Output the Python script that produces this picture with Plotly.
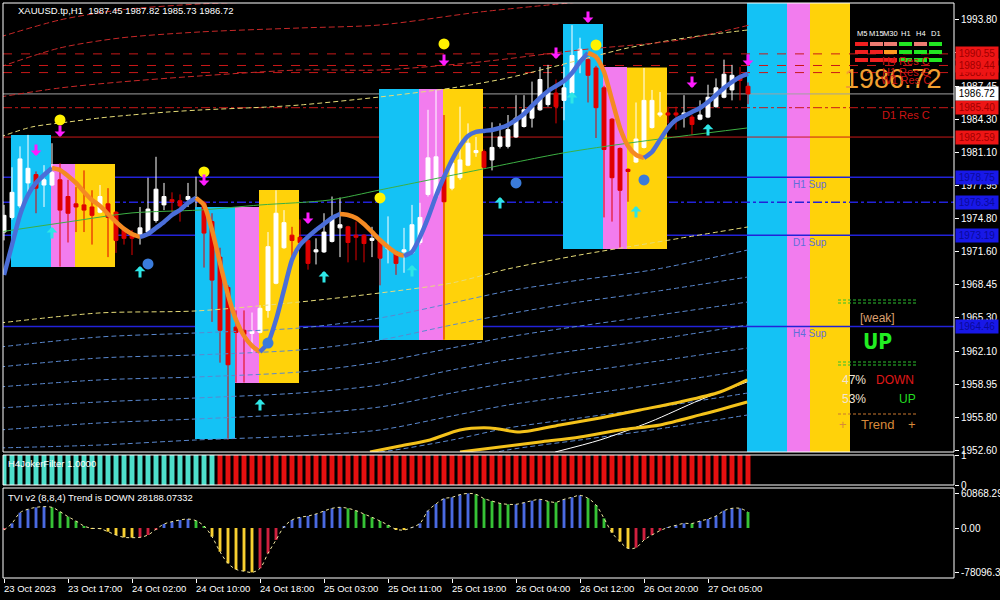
import plotly.graph_objects as go

FONT = "Liberation Sans, Arial, sans-serif"

# ------------------------------------------------------------------ DATA
TITLE_TEXT = "XAUUSD.tp,H1  1987.45 1987.82 1985.73 1986.72"

TIME_TICK_BARS = [0, 8, 16, 24, 32, 40, 48, 56, 64, 72, 80, 88]
TIME_TICK_TEXT = ["23 Oct 2023", "23 Oct 17:00", "24 Oct 02:00", "24 Oct 10:00",
                  "24 Oct 18:00", "25 Oct 03:00", "25 Oct 11:00", "25 Oct 19:00",
                  "26 Oct 04:00", "26 Oct 12:00", "26 Oct 20:00", "27 Oct 05:00"]

PRICE_TICKS = [1993.80, 1990.65, 1987.45, 1984.30, 1981.10, 1977.95, 1974.80,
               1971.60, 1968.45, 1965.30, 1962.10, 1958.95, 1955.80, 1952.60]
TVI_TICKS = [60868.2995, 0.0, -78096.38]
TVI_TICK_TEXT = ["60868.2995", "0.00", "-78096.38"]

OPEN = [1973.5, 1974.9, 1976.0, 1978.2, 1979.0, 1978.0, 1978.0, 1978.5, 1976.9, 1976.2,
        1976.1, 1975.9, 1975.4, 1976.2, 1975.4, 1973.7, 1973.2, 1973.2, 1973.5, 1974.6,
        1976.1, 1976.6, 1976.5, 1976.6, 1976.6, 1976.3, 1974.5, 1971.1, 1968.2, 1964.4,
        1964.1, 1963.8, 1963.9, 1966.0, 1968.6, 1972.0, 1973.2, 1973.0, 1972.7, 1971.6,
        1971.6, 1972.6, 1973.9, 1974.0, 1973.2, 1973.2, 1972.7, 1972.7, 1971.9, 1971.6,
        1971.6, 1971.5, 1972.5, 1977.1, 1976.9, 1978.8, 1977.7, 1978.7, 1979.9, 1981.1,
        1981.2, 1980.4, 1981.7, 1981.7, 1982.6, 1983.6, 1984.4, 1985.2, 1985.7, 1986.8,
        1986.1, 1986.8, 1990.0, 1990.0, 1989.2, 1987.3, 1984.3, 1981.5, 1979.5, 1980.2,
        1981.6, 1983.5, 1984.7, 1984.9, 1984.9, 1984.5, 1984.5, 1984.3, 1984.5, 1985.5,
        1986.4, 1987.1, 1988.4, 1987.45]
HIGH = [1976.1, 1979.7, 1981.7, 1982.8, 1979.3, 1979.9, 1982.0, 1980.1, 1978.5, 1977.8,
        1979.4, 1977.5, 1978.0, 1977.7, 1975.5, 1973.8, 1973.7, 1975.9, 1978.7, 1980.7,
        1978.2, 1977.3, 1977.1, 1978.2, 1978.8, 1976.5, 1975.3, 1972.0, 1968.4, 1966.0,
        1966.0, 1965.8, 1966.5, 1973.5, 1977.5, 1975.6, 1974.0, 1974.7, 1972.8, 1972.9,
        1975.3, 1976.9, 1976.8, 1974.1, 1974.5, 1973.3, 1974.0, 1972.8, 1975.0, 1971.7,
        1973.9, 1976.1, 1976.3, 1985.2, 1987.1, 1984.7, 1980.4, 1985.5, 1983.9, 1982.6,
        1981.4, 1984.0, 1983.9, 1984.7, 1986.6, 1986.6, 1987.9, 1989.3, 1989.5, 1988.1,
        1989.3, 1993.3, 1992.1, 1990.2, 1989.4, 1987.5, 1984.4, 1981.6, 1979.6, 1985.9,
        1989.2, 1987.1, 1986.9, 1985.5, 1985.5, 1986.6, 1984.7, 1986.1, 1987.6, 1988.2,
        1990.0, 1989.5, 1989.3, 1987.82]
LOW = [1972.7, 1974.7, 1975.8, 1976.9, 1975.3, 1975.9, 1977.9, 1970.2, 1972.5, 1973.5,
       1973.5, 1972.3, 1975.3, 1971.1, 1971.5, 1972.3, 1971.3, 1972.3, 1973.3, 1974.4,
       1975.6, 1975.4, 1974.5, 1975.9, 1975.9, 1970.1, 1964.9, 1961.0, 1953.6, 1959.1,
       1959.1, 1961.9, 1963.8, 1965.3, 1968.5, 1971.9, 1971.0, 1972.4, 1969.9, 1970.4,
       1971.5, 1972.5, 1971.1, 1970.6, 1970.8, 1970.6, 1971.1, 1968.4, 1970.5, 1969.4,
       1969.6, 1971.4, 1972.3, 1976.9, 1976.9, 1963.2, 1977.5, 1978.5, 1979.8, 1980.7,
       1979.6, 1979.4, 1981.5, 1981.5, 1982.5, 1983.5, 1983.5, 1985.1, 1985.5, 1983.9,
       1984.2, 1986.6, 1988.7, 1985.9, 1982.5, 1974.9, 1974.5, 1972.0, 1976.4, 1980.1,
       1981.5, 1983.4, 1984.5, 1983.9, 1983.3, 1983.5, 1982.8, 1984.2, 1984.4, 1985.4,
       1986.3, 1986.1, 1986.1, 1985.73]
CLOSE = [1975.1, 1977.3, 1980.5, 1979.6, 1977.7, 1978.5, 1979.2, 1975.6, 1975.3, 1975.9,
         1975.6, 1975.1, 1976.9, 1974.9, 1972.7, 1972.9, 1972.9, 1973.9, 1975.7, 1977.6,
         1976.9, 1976.4, 1976.0, 1976.9, 1976.8, 1973.4, 1968.9, 1964.1, 1960.8, 1963.9,
         1963.7, 1964.0, 1966.2, 1972.1, 1975.3, 1974.4, 1972.7, 1972.5, 1970.5, 1971.8,
         1973.5, 1974.9, 1974.2, 1972.5, 1973.0, 1972.4, 1972.9, 1971.0, 1972.1, 1970.5,
         1971.8, 1974.2, 1974.9, 1980.6, 1980.7, 1976.4, 1980.1, 1980.4, 1982.0, 1981.3,
         1979.7, 1981.6, 1982.6, 1983.3, 1984.4, 1985.2, 1985.5, 1988.1, 1986.9, 1985.5,
         1987.3, 1990.4, 1991.0, 1988.5, 1985.4, 1981.4, 1978.7, 1977.5, 1979.3, 1982.4,
         1986.1, 1986.1, 1984.9, 1984.7, 1984.7, 1984.9, 1983.8, 1984.7, 1986.4, 1987.3,
         1988.6, 1988.5, 1988.0, 1986.72]

SMOOTH_MA = [1969.39, 1972.26, 1975.13, 1977.05, 1978.20, 1978.96, 1979.63, 1979.44, 1978.87, 1978.20,
             1977.34, 1976.57, 1976.00, 1975.23, 1974.47, 1973.80, 1973.32, 1973.03, 1973.32, 1973.89,
             1974.47, 1975.13, 1975.61, 1976.28, 1976.76, 1976.09, 1973.70, 1970.54, 1967.48, 1965.09,
             1963.56, 1962.60, 1962.03, 1962.89, 1965.09, 1967.96, 1970.83, 1972.26, 1973.03, 1973.70,
             1974.27, 1974.85, 1975.23, 1975.13, 1974.85, 1974.27, 1973.51, 1972.74, 1972.07, 1971.50,
             1971.21, 1971.60, 1973.03, 1974.85, 1976.95, 1978.77, 1980.40, 1981.74, 1982.70, 1983.08,
             1983.18, 1983.27, 1983.46, 1983.75, 1984.23, 1984.80, 1985.57, 1986.33, 1987.00, 1987.48,
             1987.96, 1988.72, 1989.78, 1990.64, 1990.26, 1988.82, 1986.14, 1983.46, 1981.74, 1980.88,
             1980.59, 1981.16, 1982.32, 1983.46, 1984.23, 1984.61, 1984.99, 1985.37, 1985.94, 1986.62,
             1987.29, 1987.86, 1988.34, 1988.63]

# envelope / band curves (bar index, price)
LOW_BAND_BARS = [-0.5, 12, 24, 37, 47, 56, 63, 72, 81, 93]
BAND_Y2 = [1964.80, 1965.76, 1965.95, 1966.81, 1967.67, 1968.63, 1969.97, 1971.31, 1972.46, 1973.99]
BAND_S1 = [1962.50, 1963.46, 1963.84, 1964.32, 1965.28, 1966.71, 1967.86, 1968.91, 1969.87, 1971.79]
BAND_S2 = [1960.59, 1961.45, 1961.74, 1962.22, 1963.17, 1964.61, 1965.66, 1966.81, 1967.77, 1969.20]
BAND_S3 = [1958.68, 1959.35, 1959.63, 1960.11, 1961.07, 1962.41, 1963.46, 1964.51, 1965.47, 1966.81]
BAND_S4 = [1956.66, 1957.24, 1957.62, 1958.10, 1958.87, 1960.30, 1961.26, 1962.22, 1963.17, 1964.61]
BAND_S5 = [1954.56, 1955.23, 1955.61, 1956.09, 1956.76, 1958.10, 1959.06, 1960.11, 1961.07, 1962.41]
BAND_S6 = [1952.84, 1953.12, 1953.60, 1953.99, 1954.56, 1955.90, 1956.95, 1957.91, 1958.87, 1960.30]
BAND_S7_BARS = [37, 47, 56, 63, 72, 81, 93]
BAND_S7 = [1952.07, 1952.45, 1953.60, 1954.75, 1955.71, 1956.66, 1958.10]
BAND_S8_BARS = [56, 63, 72, 81, 93]
BAND_S8 = [1951.50, 1952.65, 1953.60, 1954.56, 1956.00]

BAND_Y1_BARS = [-0.5, 3.5, 8, 12, 16, 20.5, 24.5, 33, 37, 47, 56, 63, 72, 78, 86, 93]
BAND_Y1 = [1982.60, 1983.56, 1984.03, 1984.42, 1984.71, 1984.99, 1985.18, 1985.47, 1985.66,
           1986.43, 1987.29, 1988.25, 1989.97, 1991.12, 1992.17, 1992.84]
RED_BAND_BARS = [-0.5, 7, 14.5, 24.5, 37, 47, 59.5, 72, 84.5, 93.25]
BAND_R1 = [1992.17, 1993.80, 1994.75, 1995.33, 1995.61]
BAND_R2 = [1989.30, 1991.12, 1992.07, 1992.65, 1993.03, 1993.32, 1994.56, 1995.52]
BAND_R3 = [1986.43, 1987.29, 1987.86, 1988.44, 1989.01, 1989.01, 1989.78, 1990.93, 1991.88, 1993.32]

GREEN_MA_BARS = [-0.5, 8, 16, 24.5, 32, 40.75, 47, 57.4, 69.9, 78.25, 92.9]
GREEN_MA = [1973.51, 1974.47, 1975.33, 1975.61, 1976.09, 1976.57, 1977.53, 1979.15, 1981.07, 1982.03, 1983.46]

GOLD1_BARS = [45.75, 49.5, 53.25, 57, 60.75, 64.5, 69.5, 74.5, 79.5, 84.5, 89.5, 92.9]
GOLD1 = [1952.45, 1953.03, 1953.60, 1954.56, 1954.75, 1954.37, 1955.04, 1955.71, 1956.47, 1957.24, 1958.19, 1959.35]
GOLD2_BARS = [57, 62, 67, 72, 77, 82, 87, 92.9]
GOLD2 = [1952.45, 1952.93, 1953.41, 1953.89, 1954.56, 1955.04, 1956.00, 1957.24]
WHITE_BARS = [68.9, 74.5, 80.75, 87, 92.9]
WHITE_LINE = [1952.45, 1953.60, 1955.33, 1957.43, 1959.16]

# zone boxes: (first bar, last bar, top price, bottom price, colour key)
ZONE_BOXES = [
    (0.875, 5.875, 1982.79, 1970.16, "cyan"), (5.875, 8.875, 1980.02, 1970.16, "pink"),
    (8.875, 13.875, 1980.02, 1970.16, "gold"),
    (23.875, 28.875, 1975.90, 1953.70, "cyan"), (28.875, 31.875, 1975.90, 1959.06, "pink"),
    (31.875, 36.875, 1977.53, 1959.06, "gold"),
    (46.875, 51.875, 1987.19, 1963.17, "cyan"), (51.875, 54.875, 1987.19, 1963.17, "pink"),
    (54.875, 59.875, 1987.19, 1963.17, "gold"),
    (69.875, 74.875, 1993.41, 1971.88, "cyan"), (74.875, 77.875, 1989.30, 1971.88, "pink"),
    (77.875, 82.875, 1989.25, 1971.88, "gold"),
]
CURRENT_ZONE = [(92.875, 97.875, "cyan"), (97.875, 100.75, "pink"), (100.75, 105.75, "gold")]

# signals
DOWN_ARROW_BARS = [4, 7, 25, 38, 55, 69, 73, 86, 93]
DOWN_ARROW_PRICES = [1981.36, 1983.17, 1978.49, 1974.85, 1989.97, 1990.64, 1994.08, 1987.86, 1989.97]
UP_ARROW_BARS = [6, 17, 32, 40, 51, 62, 71, 79, 88]
UP_ARROW_PRICES = [1973.41, 1969.68, 1956.95, 1969.20, 1969.78, 1976.28, 1986.33, 1975.42, 1983.27]
YELLOW_DOT_BARS = [7, 25, 47, 55, 74]
YELLOW_DOT_PRICES = [1984.23, 1979.25, 1976.76, 1991.50, 1991.40]
BLUE_DOT_BARS = [18, 33, 64, 80]
BLUE_DOT_PRICES = [1970.45, 1962.88, 1978.20, 1978.49]

# horizontal levels
RES_LEVELS = [1990.55, 1989.44, 1988.76, 1985.40, 1982.59]
RES_DASH = ["dash", "dash", "dash", "dashdot", "solid"]
RES_NAMES = ["H4 Res C", "H1 Res C", "W1 Res C", "D1 Res C", ""]
SUP_LEVELS = [1978.75, 1976.34, 1973.19, 1964.46]
SUP_DASH = ["solid", "dashdot", "solid", "solid"]
SUP_NAMES = ["H1 Sup", "", "D1 Sup", "H4 Sup"]
BID_PRICE = 1986.72

# filter and TVI sub-windows
FILTER_VALUE = 1.0
FILTER_STATE = "U" * 27 + "D" * 67
TVI = [-3500, 8200, 27000, 33000, 36400, 37600, 36400, 28800, 20000, 12300,
       3500, -600, -1200, -6500, -12300, -16400, -17000, -16400, -12300, -2300,
       7000, 11100, 14100, 15800, 12900, 3500, -15300, -41700, -62200, -72800,
       -76000, -78096.38, -71000, -44600, -21100, 2000, 14100, 18800, 21100, 24700,
       29900, 34600, 36400, 34600, 30500, 24700, 18800, 12300, 5300, -2300,
       -3500, 1000, 8200, 30500, 42300, 51700, 54000, 58700, 60868.2995, 59300,
       51700, 47500, 43400, 41700, 41700, 44600, 48100, 50500, 47000, 45200,
       50500, 54000, 57500, 52200, 40500, 17000, -8200, -24000, -35800, -34600,
       -21100, -12300, -4700, 1000, 4700, 8200, 7900, 12300, 15800, 21100,
       30500, 34600, 34600, 28188.07332]
TVI_STATE = ("R" + "BBBBB" + "GGGGG" + "YYYYYY" + "RRR" + "BBBB" + "GG" + "YYYYYY" + "RRR"
             + "BBBBBBBB" + "GGGGGG" + "YY" + "BBBBBBBB" + "GGGGG" + "BBBB" + "GG" + "BBB"
             + "GGG" + "YYY" + "RRRR" + "BBB" + "G" + "BBBBBB" + "G")

# info panel
TF_NAMES = ["M5", "M15", "M30", "H1", "H4", "D1"]
TF_ROWS = [["r", "s", "s", "g", "s", "g"],
           ["r", "r", "o", "g", "g", "g"],
           ["r", "r", "r", "g", "g", "g"]]
PCT_DOWN, PCT_UP = "47%", "53%"

# ------------------------------------------------------------------ STYLE
W, H = 1000, 600
ML, MR, MT, MB = 3, 46, 3, 22
PW, PH = W - ML - MR, H - MT - MB

def px_x(x):
    return (x - ML) / PW

def px_y(y):
    return (H - MB - y) / PH

ZONE_COL = {"cyan": "#14C2F5", "pink": "#F27CEE", "gold": "#FFD20A"}
TVI_COL = {"B": "#4A6AE0", "G": "#36C236", "Y": "#F8D030", "R": "#D0203F"}
FILTER_COL = {"U": "#4EDFCB", "D": "#E41010"}
TF_COL = {"r": "#F02020", "s": "#EE7C72", "o": "#FF9A20", "g": "#22E622"}
MA_UP, MA_DOWN = "#4A6ED8", "#F58A22"
RED_LVL, BLUE_LVL = "#C81818", "#2222D8"

BARS = list(range(len(OPEN)))

fig = go.Figure()

# ---------------- shapes: zones, levels, frames
shapes = []
for x0, x1, top, bot, c in ZONE_BOXES:
    shapes.append(dict(type="rect", xref="x", yref="y", x0=x0, x1=x1, y0=bot, y1=top,
                       fillcolor=ZONE_COL[c], line=dict(width=0), layer="below"))
for x0, x1, c in CURRENT_ZONE:
    shapes.append(dict(type="rect", xref="x", yref="y domain", x0=x0, x1=x1, y0=0, y1=1,
                       fillcolor=ZONE_COL[c], line=dict(width=0), layer="below"))
for lvl, d in zip(RES_LEVELS, RES_DASH):
    shapes.append(dict(type="line", xref="x domain", yref="y", x0=0, x1=1, y0=lvl, y1=lvl,
                       line=dict(color=RED_LVL, width=1, dash=d), layer="below"))
for lvl, d in zip(SUP_LEVELS, SUP_DASH):
    shapes.append(dict(type="line", xref="x domain", yref="y", x0=0, x1=1, y0=lvl, y1=lvl,
                       line=dict(color=BLUE_LVL, width=1.5, dash=d), layer="below"))
shapes.append(dict(type="line", xref="x domain", yref="y", x0=0, x1=1, y0=BID_PRICE, y1=BID_PRICE,
                   line=dict(color="#A0A0A0", width=1), layer="below"))
for yd in ["y domain", "y2 domain", "y3 domain"]:
    shapes.append(dict(type="rect", xref="x domain", yref=yd, x0=0, x1=1, y0=0, y1=1,
                       line=dict(color="white", width=1), layer="above"))
# info panel decorations (screen anchored)
col_x = [855, 870, 884, 899, 914, 929]
row_y = [42, 50, 58]
for r, row in enumerate(TF_ROWS):
    for c, key in enumerate(row):
        shapes.append(dict(type="rect", xref="paper", yref="paper",
                           x0=px_x(col_x[c]), x1=px_x(col_x[c] + 13),
                           y0=px_y(row_y[r] + 4), y1=px_y(row_y[r]),
                           fillcolor=TF_COL[key], line=dict(width=0), layer="above"))
for yy, col in [(300, "#2EC02E"), (303, "#2EC02E"), (362, "#2EC02E"), (365, "#2EC02E"), (414, "#C87830")]:
    shapes.append(dict(type="line", xref="paper", yref="paper", x0=px_x(838), x1=px_x(916),
                       y0=px_y(yy), y1=px_y(yy), line=dict(color=col, width=1, dash="3px,2px"),
                       layer="above"))

# ---------------- traces: bands
def band(xs, ys, color, dash="5px,3px", width=1):
    fig.add_trace(go.Scatter(x=xs, y=ys, mode="lines", hoverinfo="skip",
                             line=dict(color=color, width=width, dash=dash, shape="spline", smoothing=0.8),
                             xaxis="x", yaxis="y"))

for ys in [BAND_S1, BAND_S2, BAND_S3, BAND_S4, BAND_S5, BAND_S6]:
    band(LOW_BAND_BARS, ys, "#5A88CF")
band(BAND_S7_BARS, BAND_S7, "#5A88CF")
band(BAND_S8_BARS, BAND_S8, "#5A88CF")
band(LOW_BAND_BARS, BAND_Y2, "#E6DC78")
band(BAND_Y1_BARS, BAND_Y1, "#E6DC78")
band(RED_BAND_BARS[:len(BAND_R1)], BAND_R1, "#C82828", "6px,3px")
band(RED_BAND_BARS[:len(BAND_R2)], BAND_R2, "#C82828", "6px,3px")
band(RED_BAND_BARS[:len(BAND_R3)], BAND_R3, "#C82828", "6px,3px")
band(GREEN_MA_BARS, GREEN_MA, "#3CB043", "solid", 1)
band(WHITE_BARS, WHITE_LINE, "#FFFFFF", "solid", 1)
band(GOLD1_BARS, GOLD1, "#F4C21A", "solid", 3)
band(GOLD2_BARS, GOLD2, "#F4C21A", "solid", 3)

# ---------------- candles
fig.add_trace(go.Candlestick(
    x=BARS, open=OPEN, high=HIGH, low=LOW, close=CLOSE, xaxis="x", yaxis="y",
    increasing=dict(line=dict(color="#FFFFFF", width=1), fillcolor="#FFFFFF"),
    decreasing=dict(line=dict(color="#E00000", width=1), fillcolor="#E00000"),
    whiskerwidth=0, hoverinfo="skip", showlegend=False))

# ---------------- smoothed MA coloured by direction
ma_up = [SMOOTH_MA[i + 1] >= SMOOTH_MA[i] for i in range(len(SMOOTH_MA) - 1)]
start = 0
for k in range(1, len(ma_up) + 1):
    if k == len(ma_up) or ma_up[k] != ma_up[start]:
        fig.add_trace(go.Scatter(x=BARS[start:k + 1], y=SMOOTH_MA[start:k + 1], mode="lines",
                                 hoverinfo="skip", xaxis="x", yaxis="y",
                                 line=dict(color=MA_UP if ma_up[start] else MA_DOWN, width=4.5,
                                           shape="spline", smoothing=0.6)))
        start = k

# ---------------- dots
fig.add_trace(go.Scatter(x=YELLOW_DOT_BARS, y=YELLOW_DOT_PRICES, mode="markers", hoverinfo="skip",
                         marker=dict(color="#FFF200", size=11, line=dict(width=0)), xaxis="x", yaxis="y"))
fig.add_trace(go.Scatter(x=BLUE_DOT_BARS, y=BLUE_DOT_PRICES, mode="markers", hoverinfo="skip",
                         marker=dict(color="#3A7BDA", size=11, line=dict(width=0)), xaxis="x", yaxis="y"))

# ---------------- filter histogram
fig.add_trace(go.Bar(x=BARS, y=[FILTER_VALUE] * len(FILTER_STATE), width=0.62,
                     marker=dict(color=[FILTER_COL[s] for s in FILTER_STATE], line=dict(width=0)),
                     xaxis="x", yaxis="y2", hoverinfo="skip"))

# ---------------- TVI histogram
fig.add_trace(go.Bar(x=BARS, y=TVI, width=0.36,
                     marker=dict(color=[TVI_COL[s] for s in TVI_STATE], line=dict(width=0)),
                     xaxis="x", yaxis="y3", hoverinfo="skip"))
fig.add_trace(go.Scatter(x=BARS, y=TVI, mode="lines", hoverinfo="skip", xaxis="x", yaxis="y3",
                         line=dict(color="#F0E6A0", width=1, dash="dot", shape="spline")))

# ---------------- annotations
ann = []
for b, p in zip(DOWN_ARROW_BARS, DOWN_ARROW_PRICES):
    ann.append(dict(x=b, y=p, xref="x", yref="y", text="", showarrow=True, arrowhead=1,
                    arrowsize=0.6, arrowwidth=3, arrowcolor="#FF1CFF", ax=0, ay=-13, yshift=-6))
for b, p in zip(UP_ARROW_BARS, UP_ARROW_PRICES):
    ann.append(dict(x=b, y=p, xref="x", yref="y", text="", showarrow=True, arrowhead=1,
                    arrowsize=0.6, arrowwidth=3, arrowcolor="#2EE6E6", ax=0, ay=13, yshift=6))

def ptext(x, y, text, color, size, anchor="center", family=FONT):
    ann.append(dict(xref="paper", yref="paper", x=px_x(x), y=px_y(y), text=text, showarrow=False,
                    xanchor=anchor, yanchor="middle", font=dict(family=family, size=size, color=color)))

ptext(16, 11, TITLE_TEXT, "#FFFFFF", 9.5, "left")
ptext(6, 463, "H4JokerFilter 1.0000", "#FFFFFF", 9.5, "left")
ptext(6, 497, "TVI v2 (8,8,4) Trend is DOWN 28188.07332", "#FFFFFF", 9.5, "left")

# info panel
ptext(893, 79, f"{BID_PRICE:.2f}", "#F2A030", 27)
for lvl, name in zip(RES_LEVELS, RES_NAMES):
    if name:
        ann.append(dict(xref="paper", yref="y", x=px_x(906), y=lvl, yshift=-7, text=name,
                        showarrow=False, xanchor="center", yanchor="middle",
                        font=dict(family=FONT, size=11, color="#CC1414")))
for lvl, name in zip(SUP_LEVELS, SUP_NAMES):
    if name:
        ann.append(dict(xref="paper", yref="y", x=px_x(810), y=lvl, yshift=-7, text=name,
                        showarrow=False, xanchor="center", yanchor="middle",
                        font=dict(family=FONT, size=10, color="#5F6FD8")))
for c, name in enumerate(TF_NAMES):
    ptext(col_x[c] + 6.5, 33, name, "#FFFFFF", 7.5)
ptext(877, 318, "[weak]", "#DCA070", 12)
ptext(877, 342, "<b>UP</b>", "#22EE22", 21, family="Liberation Sans Narrow, DejaVu Sans Condensed, Arial")
ptext(840, 380, PCT_DOWN, "#F2E4D4", 12, "left")
ptext(895, 380, "DOWN", "#E01818", 12)
ptext(840, 399, PCT_UP, "#F2E4D4", 12, "left")
ptext(907, 399, "UP", "#22DD22", 12)
ptext(843, 425, "+", "#D88A3A", 13)
ptext(877, 425, "Trend", "#D88A3A", 13)
ptext(912, 425, "+", "#D88A3A", 13)

# x-axis labels (left aligned at the tick like MT4)
for b, t in zip(TIME_TICK_BARS, TIME_TICK_TEXT):
    ann.append(dict(x=b, xref="x", y=px_y(581), yref="paper", text=t, showarrow=False,
                    xanchor="left", yanchor="top", xshift=-2,
                    font=dict(family=FONT, size=9.5, color="#FFFFFF")))

# price tags on the right axis
TAGS = [(1988.76, "red"), (1989.44, "red"), (1990.55, "red"), (1985.40, "red"), (1982.59, "red"),
        (1978.75, "blue"), (1976.34, "blue"), (1973.19, "blue"), (1964.46, "blue"), (BID_PRICE, "bid")]
TAG_STYLE = {"red": ("#EE1515", "#A00000"), "blue": ("#1818E8", "#0A0A9A"), "bid": ("#FFFFFF", "#000000")}
for p, kind in TAGS:
    bg, fg = TAG_STYLE[kind]
    ann.append(dict(xref="paper", yref="y", x=1, y=p, xanchor="left", yanchor="middle", xshift=1,
                    text=f"{p:.2f}", showarrow=False, bgcolor=bg, borderpad=1, width=40, height=11,
                    font=dict(family=FONT, size=10, color=fg)))

# ---------------- layout
axis_common = dict(showgrid=False, zeroline=False, showline=False, fixedrange=True)
fig.update_layout(
    width=W, height=H,
    margin=dict(l=ML, r=MR, t=MT, b=MB, pad=0, autoexpand=False),
    paper_bgcolor="#000000", plot_bgcolor="#000000", showlegend=False,
    font=dict(family=FONT, color="#FFFFFF", size=10),
    barmode="overlay", shapes=shapes, annotations=ann,
    xaxis=dict(domain=[0, 1], range=[-0.125, 118.75], anchor="y3", tickvals=TIME_TICK_BARS,
               ticks="outside", ticklen=4, tickcolor="#FFFFFF", showticklabels=False,
               rangeslider=dict(visible=False), **axis_common),
    yaxis=dict(domain=[px_y(452), 1.0], range=[1952.45, 1995.42], side="right", anchor="x",
               tickvals=PRICE_TICKS, ticktext=[f"{v:.2f}" for v in PRICE_TICKS],
               ticks="outside", ticklen=4, tickcolor="#FFFFFF", automargin=False,
               tickfont=dict(family=FONT, size=10, color="#FFFFFF"), **axis_common),
    yaxis2=dict(domain=[px_y(485), px_y(455)], range=[0, 1], side="right", anchor="x",
                tickvals=[1, 0], ticktext=["1", "0"], ticks="outside", ticklen=4, tickcolor="#FFFFFF",
                automargin=False, tickfont=dict(family=FONT, size=10, color="#FFFFFF"), **axis_common),
    yaxis3=dict(domain=[0, px_y(488)], range=[-88000, 70400], side="right", anchor="x",
                tickvals=TVI_TICKS, ticktext=TVI_TICK_TEXT, ticks="outside", ticklen=4,
                tickcolor="#FFFFFF", automargin=False,
                tickfont=dict(family=FONT, size=10, color="#FFFFFF"), **axis_common),
)

fig.write_html("out.html", config={"displayModeBar": False},
               post_script="document.body.style.margin='0px';document.body.style.overflow='hidden';")
